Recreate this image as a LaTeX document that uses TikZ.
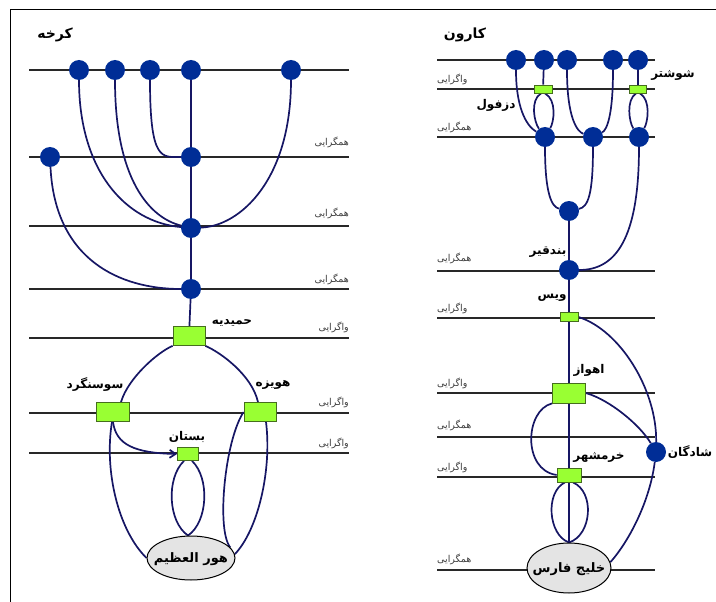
\documentclass[tikz,border=0pt]{standalone}
\usepackage{fontspec}
\TeXXeTstate=1
\newfontfamily\arfont[Script=Arabic]{DejaVu Sans}
\usetikzlibrary{arrows.meta,shapes.geometric}
\definecolor{riverc}{RGB}{22,22,100}
\definecolor{dotc}{RGB}{0,45,150}
\definecolor{boxc}{RGB}{153,255,51}
\definecolor{boxe}{RGB}{70,110,30}
\definecolor{linec}{RGB}{40,40,40}
\definecolor{lakec}{RGB}{228,228,228}
\definecolor{smallc}{RGB}{60,60,60}
\pgfdeclarelayer{bg}
\pgfsetlayers{bg,main}
\newcommand{\fatext}[1]{\beginR #1\endR}
\begin{document}
\begin{tikzpicture}[x=1pt,y=-1pt,
  hline/.style={draw=linec,line width=1.2pt},
  frm/.style={draw=black,line width=1pt},
  river/.style={draw=riverc,line width=1.7pt},
  dot/.style={circle,fill=dotc,minimum size=20pt,inner sep=0pt},
  gbox/.style={rectangle,fill=boxc,draw=boxe,line width=0.8pt,inner sep=0pt},
  lake/.style={ellipse,fill=lakec,draw=black,line width=1pt,inner sep=0pt},
  ttl/.style={font=\arfont\bfseries\fontsize{14}{16}\selectfont,inner sep=0pt},
  nm/.style={font=\arfont\bfseries\fontsize{12}{14}\selectfont,inner sep=0pt},
  lknm/.style={font=\arfont\bfseries\fontsize{13}{15}\selectfont,inner sep=0pt},
  sml/.style={font=\arfont\fontsize{9.5}{11}\selectfont,text=smallc,inner sep=0pt}]
\useasboundingbox (0,0) rectangle (716,602);
% frame
\draw[frm] (10,602) -- (10,10) -- (716,10);

% ===== Left panel (Karkheh) =====
\node[ttl] (tkarkheh) at (55,35) {\fatext{کرخه}};
\node[dot] (k1) at (79,70) {};
\node[dot] (k2) at (115,70) {};
\node[dot] (k3) at (150,70) {};
\node[dot] (k4) at (191,70) {};
\node[dot] (k5) at (291,70) {};
\node[dot] (k6) at (50,157) {};
\node[dot] (k7) at (191,157) {};
\node[dot] (k8) at (191,228) {};
\node[dot] (k9) at (191,289) {};
\node[gbox,minimum width=32pt,minimum height=19pt] (hamid) at (189,336) {};
\node[gbox,minimum width=33pt,minimum height=19pt] (susan) at (113,412) {};
\node[gbox,minimum width=32pt,minimum height=19pt] (hovey) at (260,412) {};
\node[gbox,minimum width=21pt,minimum height=13pt] (bostan) at (188,454) {};
\node[lake,minimum width=88pt,minimum height=44pt] (hour) at (191,558) {};
\node[lknm] (thour) at (191,559) {\fatext{هور العظیم}};

\node[nm] (thamid) at (232,323) {\fatext{حمیدیه}};
\node[nm] (tsusan) at (95,385) {\fatext{سوسنگرد}};
\node[nm] (thovey) at (273,385) {\fatext{هویزه}};
\node[nm] (tbostan) at (187,437) {\fatext{بستان}};

\node[sml,anchor=east] (ls1) at (349,142) {\fatext{همگرایی}};
\node[sml,anchor=east] (ls2) at (349,213) {\fatext{همگرایی}};
\node[sml,anchor=east] (ls3) at (349,279) {\fatext{همگرایی}};
\node[sml,anchor=east] (ls4) at (349,327) {\fatext{واگرایی}};
\node[sml,anchor=east] (ls5) at (349,402) {\fatext{واگرایی}};
\node[sml,anchor=east] (ls6) at (349,443) {\fatext{واگرایی}};

% ===== Right panel (Karun) =====
\node[ttl] (tkarun) at (465,35) {\fatext{کارون}};
\node[dot] (r1) at (516,60) {};
\node[dot] (r2) at (544,60) {};
\node[dot] (r3) at (567,60) {};
\node[dot] (r4) at (613,60) {};
\node[dot] (r5) at (638,60) {};
\node[gbox,minimum width=18pt,minimum height=8pt] (dez) at (543,89) {};
\node[gbox,minimum width=17pt,minimum height=8pt] (shush) at (638,89) {};
\node[dot] (r6) at (545,137) {};
\node[dot] (r7) at (593,137) {};
\node[dot] (r8) at (639,137) {};
\node[dot] (r9) at (569,211) {};
\node[dot] (r10) at (569,270) {};
\node[gbox,minimum width=18pt,minimum height=9pt] (vais) at (569,317) {};
\node[gbox,minimum width=33pt,minimum height=20pt] (ahvaz) at (569,393) {};
\node[dot] (shad) at (656,452) {};
\node[gbox,minimum width=24pt,minimum height=14pt] (khorr) at (569,475) {};
\node[lake,minimum width=84pt,minimum height=50pt] (gulf) at (569,568) {};
\node[lknm] (tgulf) at (569,569) {\fatext{خلیج فارس}};

\node[nm] (tshush) at (673,75) {\fatext{شوشتر}};
\node[nm] (tdez) at (496,105) {\fatext{دزفول}};
\node[nm] (tband) at (548,252) {\fatext{بندقیر}};
\node[nm] (tvais) at (552,298) {\fatext{ویس}};
\node[nm] (tahvaz) at (589,370) {\fatext{اهواز}};
\node[nm] (tkhorr) at (599,457) {\fatext{خرمشهر}};
\node[nm] (tshad) at (690,452) {\fatext{شادگان}};

\node[sml,anchor=west] (rs1) at (437,79) {\fatext{واگرایی}};
\node[sml,anchor=west] (rs2) at (437,127) {\fatext{همگرایی}};
\node[sml,anchor=west] (rs3) at (437,258) {\fatext{همگرایی}};
\node[sml,anchor=west] (rs4) at (437,308) {\fatext{واگرایی}};
\node[sml,anchor=west] (rs5) at (437,383) {\fatext{واگرایی}};
\node[sml,anchor=west] (rs6) at (437,425) {\fatext{همگرایی}};
\node[sml,anchor=west] (rs7) at (437,467) {\fatext{واگرایی}};
\node[sml,anchor=west] (rs8) at (437,559) {\fatext{همگرایی}};

\begin{pgfonlayer}{bg}
% horizontal lines left
\foreach \yy in {70,157,226,289,338,413,453}
  \draw[hline] (29,\yy) -- (349,\yy);
% horizontal lines right
\foreach \yy in {60,89,137,271,318,393,437,477,570}
  \draw[hline] (437,\yy) -- (655,\yy);

% left rivers
\draw[river] (k4) -- (k7) -- (k8) -- (k9) -- (hamid);
\draw[river] (k1) .. controls (79,170) and (125,222) .. (k8);
\draw[river] (k2) .. controls (115,180) and (150,218) .. (k8);
\draw[river] (k3) .. controls (150,162) and (162,157) .. (k7);
\draw[river] (k5) .. controls (291,180) and (240,226) .. (k8);
\draw[river] (k6) .. controls (55,260) and (120,289) .. (k9);
\draw[river] (hamid.south west) .. controls (158,352) and (128,378) .. ([xshift=8pt]susan.north);
\draw[river] (hamid.south east) .. controls (220,352) and (252,375) .. ([xshift=-2pt]hovey.north);
\draw[river,-{Straight Barb[length=6pt,width=8pt]}] (susan.south) .. controls (116,445) and (135,453) .. (bostan.west);
\draw[river] ([xshift=-1pt]susan.south) .. controls (104,470) and (118,530) .. (hour.west);
\draw[river] (hovey.west) .. controls (225,440) and (216,530) .. (hour.15);
\draw[river] ([xshift=6pt]hovey.south) .. controls (272,470) and (258,530) .. (hour.5);
\draw[river] ([xshift=-4pt]bostan.south) .. controls (166,478) and (168,522) .. ([xshift=-3pt]hour.north);
\draw[river] ([xshift=4pt]bostan.south) .. controls (210,478) and (208,522) .. ([xshift=-3pt]hour.north);

% right rivers
\draw[river] (r1) .. controls (516,105) and (525,125) .. (r6);
\draw[river] (r2) -- (dez);
\draw[river] ([xshift=-2pt]dez.south) .. controls (530,100) and (534,122) .. (r6);
\draw[river] ([xshift=2pt]dez.south) .. controls (557,100) and (554,122) .. (r6);
\draw[river] (r3) .. controls (567,120) and (578,132) .. (r7);
\draw[river] (r4) .. controls (613,115) and (607,130) .. (r7);
\draw[river] (r5) -- (shush);
\draw[river] ([xshift=-2pt]shush.south) .. controls (626,100) and (629,122) .. (r8);
\draw[river] ([xshift=2pt]shush.south) .. controls (651,100) and (648,122) .. (r8);
\draw[river] (r6) .. controls (545,195) and (552,207) .. (r9);
\draw[river] (r7) .. controls (593,195) and (588,207) .. (r9);
\draw[river] (r8) .. controls (639,240) and (615,270) .. (r10);
\draw[river] (r9) -- (r10) -- (vais) -- (ahvaz) -- (khorr) -- (gulf.north);
\draw[river] (vais.east) .. controls (620,330) and (657,390) .. (shad);
\draw[river] (ahvaz.east) .. controls (610,400) and (640,425) .. (shad);
\draw[river] (ahvaz.south west) .. controls (525,410) and (522,470) .. (khorr.west);
\draw[river] (shad) .. controls (650,500) and (630,540) .. (gulf.8);
\draw[river] ([xshift=-4pt]khorr.south) .. controls (545,492) and (548,535) .. (gulf.north);
\draw[river] ([xshift=4pt]khorr.south) .. controls (595,492) and (592,535) .. (gulf.north);
\end{pgfonlayer}
\end{tikzpicture}
\end{document}
